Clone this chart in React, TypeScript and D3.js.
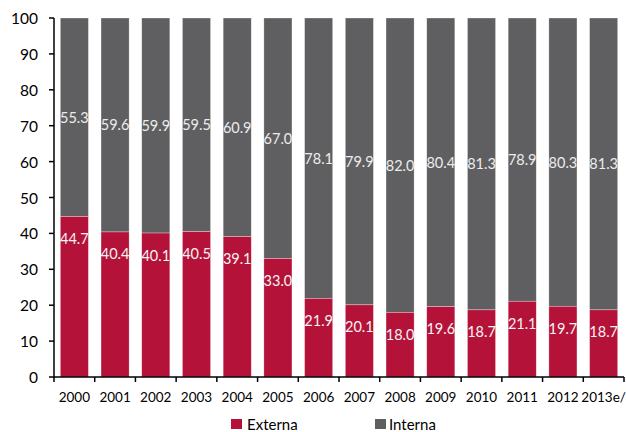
import React from "react";
import * as d3 from "d3";

const categories = ["2000","2001","2002","2003","2004","2005","2006","2007","2008","2009","2010","2011","2012","2013e/"];
const externa = [44.7,40.4,40.1,40.5,39.1,33.0,21.9,20.1,18.0,19.6,18.7,21.1,19.7,18.7];
const interna = [55.3,59.6,59.9,59.5,60.9,67.0,78.1,79.9,82.0,80.4,81.3,78.9,80.3,81.3];
const yTicks = [0,10,20,30,40,50,60,70,80,90,100];
const seriesNames = ["Externa","Interna"];

const RED = "#b5123a";
const GRAY = "#5f5f61";
const FONT = "Lato, 'Open Sans', sans-serif";

export default function App() {
  const W = 626, H = 432;
  const left = 54, right = 624, top = 18, bottom = 377;
  const x = d3.scaleBand<string>().domain(categories).range([left, right]).paddingInner(0.31).paddingOuter(0.155);
  const y = d3.scaleLinear().domain([0, 100]).range([bottom, top]);
  const step = x.step();
  return (
    <svg width={W} height={H} style={{ position: "absolute", left: 0, top: 0, background: "#fff" }} fontFamily={FONT}>
      {categories.map((c, i) => {
        const bx = x(c)!;
        const bw = x.bandwidth();
        const e = externa[i];
        const n = interna[i];
        return (
          <g key={c}>
            <rect x={bx} y={y(e + n)} width={bw} height={y(e) - y(e + n)} fill={GRAY} stroke="#ffffff" strokeOpacity={0.5} strokeWidth={0.6} />
            <rect x={bx} y={y(e)} width={bw} height={y(0) - y(e)} fill={RED} stroke="#ffffff" strokeOpacity={0.5} strokeWidth={0.6} />
            <text x={bx + bw / 2} y={(y(e) + y(e + n)) / 2} textAnchor="middle" dominantBaseline="central" fill="#ececec" fontSize={14.5}>{n.toFixed(1)}</text>
            <text x={bx + bw / 2} y={y(e) + 22} textAnchor="middle" dominantBaseline="central" fill="#f4f4f4" fontSize={14.5}>{e.toFixed(1)}</text>
          </g>
        );
      })}
      {/* y axis */}
      <line x1={left} x2={left} y1={top} y2={bottom} stroke="#000" strokeWidth={1.5} />
      {yTicks.map(t => (
        <g key={t}>
          <line x1={left - 5} x2={left} y1={y(t)} y2={y(t)} stroke="#000" strokeWidth={1.5} />
          <text x={left - 16} y={y(t)} textAnchor="end" dominantBaseline="central" fontSize={15.5} fill="#000">{t}</text>
        </g>
      ))}
      {/* x axis */}
      <line x1={left} x2={right} y1={bottom} y2={bottom} stroke="#000" strokeWidth={1.5} />
      {d3.range(categories.length + 1).map(k => (
        <line key={k} x1={left + k * step} x2={left + k * step} y1={bottom} y2={bottom + 5} stroke="#000" strokeWidth={1.5} />
      ))}
      {categories.map(c => (
        <text key={c} x={x(c)! + x.bandwidth() / 2} y={397} textAnchor="middle" dominantBaseline="central" fontSize={13.5} fill="#000">{c}</text>
      ))}
      {/* legend */}
      <rect x={231} y={419} width={11} height={10} fill={RED} />
      <text x={247} y={424} dominantBaseline="central" fontSize={15} fill="#000">{seriesNames[0]}</text>
      <rect x={375} y={419} width={11} height={10} fill={GRAY} />
      <text x={389} y={424} dominantBaseline="central" fontSize={15} fill="#000">{seriesNames[1]}</text>
    </svg>
  );
}
